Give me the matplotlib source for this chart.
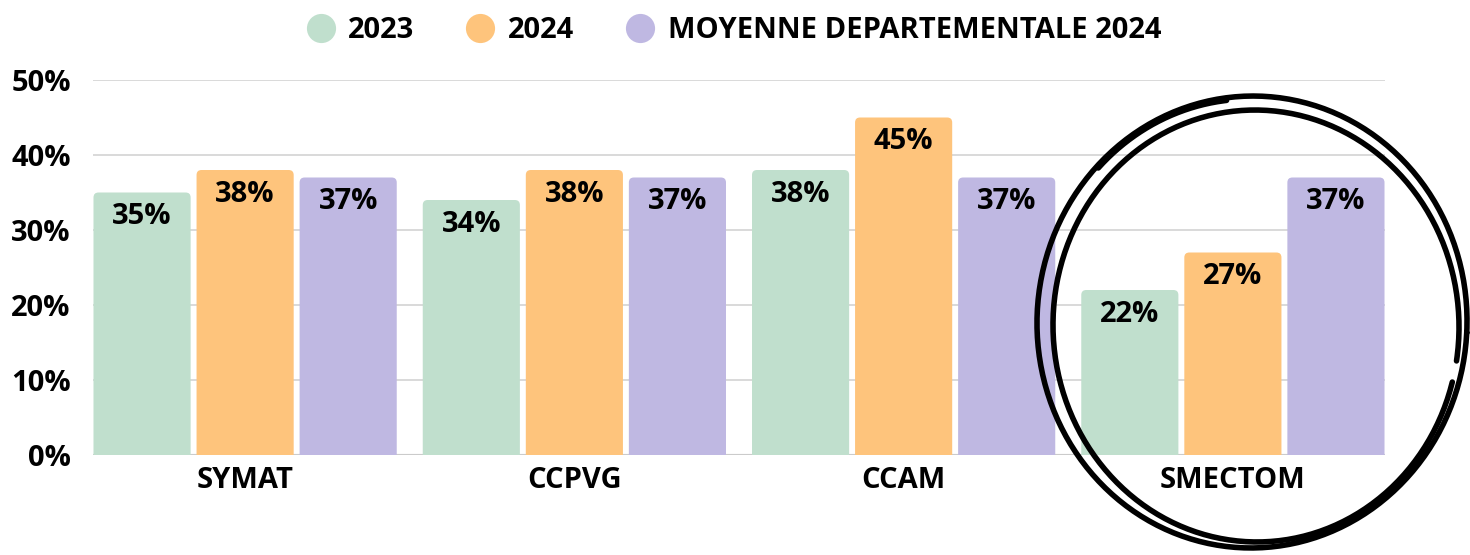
import numpy as np
import matplotlib
matplotlib.use("Agg")
import matplotlib.pyplot as plt
from matplotlib.patches import FancyBboxPatch
from matplotlib.lines import Line2D

plt.rcParams["font.family"] = ["Open Sans", "DejaVu Sans"]
plt.rcParams["font.weight"] = "bold"

categories = ["SYMAT", "CCPVG", "CCAM", "SMECTOM"]
val_2023 = [35, 34, 38, 22]
val_2024 = [38, 38, 45, 27]
moyenne_2024 = [37, 37, 37, 37]
series_names = ["2023", "2024", "MOYENNE DEPARTEMENTALE 2024"]
colors = ["#c0dfcd", "#fec47c", "#bfb8e2"]

fig = plt.figure(figsize=(14.7, 5.55), dpi=100)
ax = fig.add_axes([93 / 1470, 100 / 555, 1292 / 1470, 375 / 555])

x = np.arange(len(categories))
step = 0.313
width = 0.295
all_series = [val_2023, val_2024, moyenne_2024]

ax.set_xlim(-0.462, len(categories) - 1 + 0.462)
ax.set_ylim(0, 50)

# aspect ratio between y and x data units per pixel, for round corners
asp = (50 / 375) / ((len(categories) - 1 + 0.924) / 1292)
r = 5 * (len(categories) - 1 + 0.924) / 1292

for i, vals in enumerate(all_series):
    bars = ax.bar(x + (i - 1) * step, vals, width, color=colors[i], zorder=2)
    for b in bars:
        bx, by, bw, bh = b.get_x(), b.get_y(), b.get_width(), b.get_height()
        patch = FancyBboxPatch((bx, by - 2), bw, bh + 2,
                               boxstyle=f"round,pad=0,rounding_size={r}",
                               mutation_aspect=asp, fc=colors[i], ec="none", zorder=2)
        ax.add_patch(patch)
        b.remove()
        ax.annotate(f"{bh:.0f}%", (bx + bw / 2, bh), xytext=(0, -7),
                    textcoords="offset points", ha="center", va="top",
                    fontsize=21, fontweight="bold", color="black", zorder=3)

ax.set_yticks(range(0, 51, 10))
ax.set_yticklabels([f"{t}%" for t in range(0, 51, 10)])
ax.set_xticks(x)
ax.set_xticklabels(categories)
ax.tick_params(axis="both", length=0, labelsize=21)
ax.tick_params(axis="y", pad=16)
ax.tick_params(axis="x", pad=8)
for s in ax.spines.values():
    s.set_visible(False)
ax.grid(axis="y", color="#d3d3d3", linewidth=1.2, zorder=0)
ax.axhline(0, color="#a8a8a8", linewidth=1.5, zorder=1)

handles = [Line2D([], [], marker="o", linestyle="", markersize=21,
                  markerfacecolor=c, markeredgecolor="none") for c in colors]
fig.legend(handles, series_names, loc="center", bbox_to_anchor=(0.499, 0.945),
           ncol=3, frameon=False, fontsize=21, handlelength=1.0,
           handletextpad=0.45, columnspacing=1.75)

# hand-drawn circle around SMECTOM
for cx, cy, rx, ry, ang, t0, t1 in [
    (1252, 322, 215, 226, 0.05, 0.0, 2 * np.pi),
    (1256, 326, 203, 216, -0.04, 0.3, 2 * np.pi + 0.2),
    (1250, 320, 209, 221, 0.0, 3.9, 4.6),
]:
    tt = np.linspace(t0, t1, 300)
    px = rx * np.cos(tt)
    py = ry * np.sin(tt)
    qx = cx + px * np.cos(ang) - py * np.sin(ang)
    qy = cy + px * np.sin(ang) + py * np.cos(ang)
    fig.add_artist(Line2D(qx / 1470, 1 - qy / 555, color="black", linewidth=4,
                          transform=fig.transFigure, solid_capstyle="round"))

fig.savefig("out.png", dpi=100)
